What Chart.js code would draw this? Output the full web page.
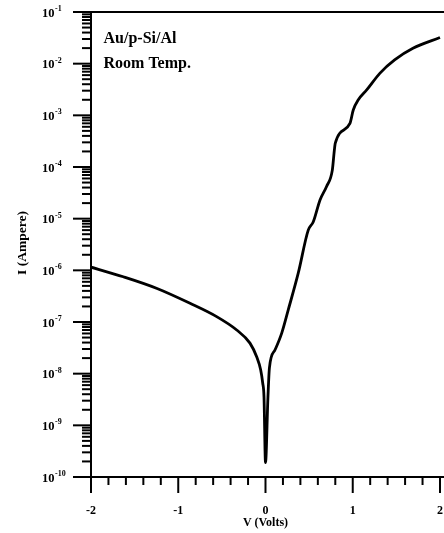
<!DOCTYPE html>
<html>
<head>
<meta charset="utf-8">
<script src="https://cdn.jsdelivr.net/npm/chart.js@4/dist/chart.umd.min.js"></script>
<style>
  html, body { margin: 0; padding: 0; background: #fff; }
  #wrap { width: 444px; height: 533px; position: relative; }
</style>
</head>
<body>
<div id="wrap"><canvas id="c" width="444" height="533"></canvas></div>
<script>
// ---- data ----
const voltage = [-2.0, -1.63, -1.25, -0.865, -0.56, -0.33, -0.178, -0.10, -0.055, -0.032, -0.017, 0.0,
                 0.028, 0.045, 0.11, 0.186, 0.26, 0.376, 0.49, 0.548, 0.625, 0.70, 0.766, 0.789, 0.80,
                 0.968, 1.006, 1.064, 1.16, 1.31, 1.48, 1.69, 2.0];
const current = [1.15e-6, 7.5e-7, 4.5e-7, 2.3e-7, 1.27e-7, 7.0e-8, 3.9e-8, 2.1e-8, 1.18e-8, 6.6e-9, 3.5e-9, 1.9e-10,
                 3.5e-9, 1.3e-8, 2.9e-8, 6.1e-8, 1.7e-7, 8.9e-7, 6.0e-6, 8.7e-6, 2.3e-5, 4.2e-5, 8.7e-5, 2.1e-4, 2.9e-4,
                 7.0e-4, 1.27e-3, 2.0e-3, 3.1e-3, 6.5e-3, 1.18e-2, 1.98e-2, 3.2e-2];
const xTickLabels = ['-2', '-1', '0', '1', '2'];
const xMinorStep = 0.2;
const yTickExponents = [-10, -9, -8, -7, -6, -5, -4, -3, -2, -1];
const xTitle = 'V (Volts)';
const yTitle = 'I (Ampere)';
const noteLines = ['Au/p-Si/Al', 'Room Temp.'];

const SERIF = '"Liberation Serif", "Times New Roman", serif';

const points = voltage.map((v, i) => ({ x: v, y: current[i] }));

const decor = {
  id: 'decor',
  afterDraw(chart) {
    const ctx = chart.ctx;
    const xs = chart.scales.x, ys = chart.scales.y;
    const a = chart.chartArea;
    ctx.save();
    ctx.strokeStyle = '#000';
    ctx.fillStyle = '#000';
    ctx.lineWidth = 2;
    // top frame line
    ctx.beginPath();
    ctx.moveTo(a.left - 18, a.top);
    ctx.lineTo(chart.width, a.top);
    ctx.stroke();
    // y ticks
    const exps = yTickExponents;
    exps.forEach((e) => {
      const yp = ys.getPixelForValue(Math.pow(10, e));
      ctx.beginPath();
      ctx.moveTo(a.left - 18, yp);
      ctx.lineTo(a.left, yp);
      ctx.stroke();
      if (e < exps[exps.length - 1]) {
        for (let m = 2; m <= 9; m++) {
          const ym = ys.getPixelForValue(m * Math.pow(10, e));
          ctx.beginPath();
          ctx.moveTo(a.left - 9, ym);
          ctx.lineTo(a.left, ym);
          ctx.stroke();
        }
      }
      // label 10^e
      ctx.textBaseline = 'middle';
      ctx.textAlign = 'right';
      ctx.font = 'bold 12.5px ' + SERIF;
      const supX = a.left - 36.5;
      ctx.fillText('10', supX, yp + 1.5);
      ctx.textAlign = 'left';
      ctx.font = 'bold 8px ' + SERIF;
      ctx.fillText(String(e), supX + 0.5, yp - 3);
    });
    // x ticks
    const xMajors = xTickLabels.map(Number);
    const x0 = xMajors[0], x1 = xMajors[xMajors.length - 1];
    const n = Math.round((x1 - x0) / xMinorStep);
    for (let k = 0; k <= n; k++) {
      const v = x0 + k * xMinorStep;
      const isMajor = Math.abs(v - Math.round(v)) < 1e-6;
      const xp = xs.getPixelForValue(v);
      ctx.beginPath();
      ctx.moveTo(xp, a.bottom);
      ctx.lineTo(xp, a.bottom + (isMajor ? 16 : 8));
      ctx.stroke();
    }
    ctx.font = 'bold 12px ' + SERIF;
    ctx.textAlign = 'center';
    ctx.textBaseline = 'middle';
    xTickLabels.forEach((t) => {
      ctx.fillText(t, xs.getPixelForValue(Number(t)), a.bottom + 33.5);
    });
    // axis titles
    ctx.font = 'bold 12px ' + SERIF;
    ctx.fillText(xTitle, (xs.getPixelForValue(x0) + xs.getPixelForValue(x1)) / 2, a.bottom + 45.5);
    ctx.save();
    ctx.translate(22.5, (a.top + a.bottom) / 2 - 1.5);
    ctx.rotate(-Math.PI / 2);
    ctx.font = 'bold 13.5px ' + SERIF;
    ctx.fillText(yTitle, 0, 0);
    ctx.restore();
    // annotation
    ctx.font = 'bold 16px ' + SERIF;
    ctx.textAlign = 'left';
    noteLines.forEach((s, i) => ctx.fillText(s, a.left + 12.5, a.top + 26.5 + i * 25));
    ctx.restore();
  }
};

new Chart(document.getElementById('c'), {
  type: 'scatter',
  data: {
    datasets: [{
      data: points,
      showLine: true,
      borderColor: '#000',
      borderWidth: 2.8,
      pointRadius: 0,
      fill: false,
      cubicInterpolationMode: 'monotone'
    }]
  },
  options: {
    responsive: false,
    animation: false,
    events: [],
    layout: { padding: { top: 12, right: 0, left: 0, bottom: 0 } },
    plugins: { legend: { display: false }, tooltip: { enabled: false } },
    scales: {
      x: {
        type: 'linear', min: -2, max: 2.046,
        grid: { display: false },
        border: { display: true, color: '#000', width: 2 },
        ticks: { display: false },
        afterFit(s) { s.height = 56; }
      },
      y: {
        type: 'logarithmic', min: 1e-10, max: 1e-1,
        grid: { display: false },
        border: { display: true, color: '#000', width: 2 },
        ticks: { display: false },
        afterFit(s) { s.width = 91; }
      }
    }
  },
  plugins: [decor]
});
</script>
</body>
</html>
